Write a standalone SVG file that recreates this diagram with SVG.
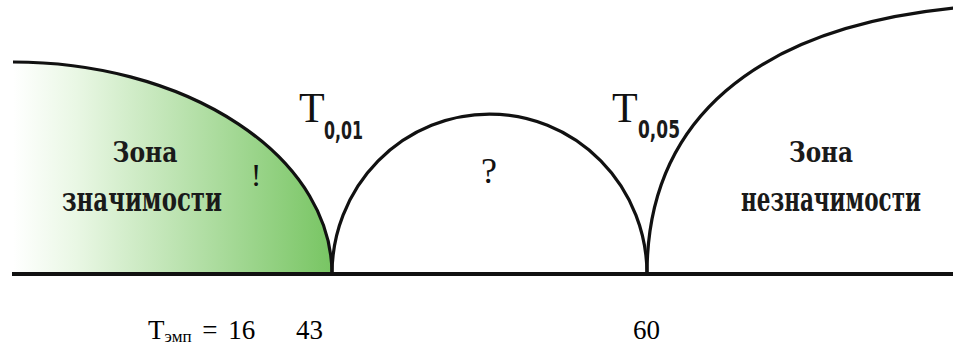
<svg xmlns="http://www.w3.org/2000/svg" width="953" height="344" viewBox="0 0 953 344">
<defs>
<linearGradient id="g" x1="13" y1="0" x2="332" y2="0" gradientUnits="userSpaceOnUse">
<stop offset="0" stop-color="#ffffff"/>
<stop offset="0.2" stop-color="#e9f7e4"/>
<stop offset="1" stop-color="#78c563"/>
</linearGradient>
<style>
.ln{fill:none;stroke:#111;stroke-width:3.2;stroke-linecap:butt}
.zn{font-family:"DejaVu Serif Condensed","DejaVu Serif",serif;font-weight:bold;fill:#1a1a1a;text-anchor:middle}
.tt{font-family:"Liberation Serif",serif;fill:#111}
.sb{font-family:"DejaVu Sans Condensed","DejaVu Sans",sans-serif;font-weight:bold;fill:#1a1a1a}
.nm{font-family:"Liberation Serif",serif;fill:#000;font-size:27px}
</style>
</defs>
<rect width="953" height="344" fill="#fff"/>
<g id="zone-significance">
<path d="M13,62 A319,212 0 0 1 332,274 L13,274 Z" fill="url(#g)"/>
<text class="zn" x="145" y="162" font-size="27" textLength="65" lengthAdjust="spacingAndGlyphs">Зона</text>
<text class="zn" x="142" y="211" font-size="33" textLength="160" lengthAdjust="spacingAndGlyphs">значимости</text>
<text class="tt" x="256" y="186" font-size="32" text-anchor="middle">!</text>
</g>
<g id="zone-uncertain">
<text class="tt" x="489" y="183" font-size="36" text-anchor="middle">?</text>
</g>
<g id="zone-nonsignificance">
<text class="zn" x="821" y="162" font-size="27" textLength="64" lengthAdjust="spacingAndGlyphs">Зона</text>
<text class="zn" x="831" y="211" font-size="33" textLength="180" lengthAdjust="spacingAndGlyphs">незначимости</text>
</g>
<g id="label-t001">
<text class="tt" x="299" y="122" font-size="42">Т</text>
<text class="sb" x="324" y="139" font-size="25" textLength="39" lengthAdjust="spacingAndGlyphs">0,01</text>
</g>
<g id="label-t005">
<text class="tt" x="612" y="122" font-size="42">Т</text>
<text class="sb" x="638" y="138" font-size="25" textLength="42" lengthAdjust="spacingAndGlyphs">0,05</text>
</g>
<g id="connectors">
<path class="ln" d="M13,62 A319,212 0 0 1 332,274"/>
<path class="ln" d="M332,274 A157.5,160 0 0 1 647,274"/>
<path class="ln" d="M647,274 C647,120 755,28 955,8"/>
<line x1="12" y1="274" x2="953" y2="274" stroke="#111" stroke-width="4"/>
</g>
<g id="values">
<text class="nm" x="148" y="339" word-spacing="4">Т<tspan font-size="17" baseline-shift="-3">эмп</tspan> = 16</text>
<text class="nm" x="296" y="339">43</text>
<text class="nm" x="633" y="339">60</text>
</g>
</svg>
